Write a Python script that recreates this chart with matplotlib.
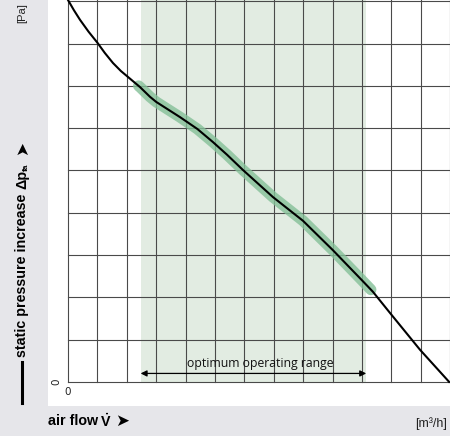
import matplotlib
matplotlib.use("Agg")
import matplotlib.pyplot as plt
from matplotlib.lines import Line2D
import numpy as np

plt.rcParams['mathtext.fontset'] = 'custom'
plt.rcParams['mathtext.rm'] = 'Liberation Sans:bold'
plt.rcParams['mathtext.it'] = 'Liberation Sans:bold'
plt.rcParams['mathtext.bf'] = 'Liberation Sans:bold'

# Data (grid units)
flow = [0.0, 0.2, 0.41, 0.7, 1.0, 1.25, 1.53, 1.8, 2.04, 2.45, 2.79, 3.0, 3.81, 4.4, 4.93,
        5.41, 5.95, 6.97, 7.99, 9.0, 10.0, 10.37, 10.95, 11.97, 12.96]
pressure = [9.03, 8.79, 8.56, 8.28, 8.02, 7.78, 7.54, 7.35, 7.21, 6.97, 6.74, 6.62, 6.26,
            5.98, 5.67, 5.37, 5.01, 4.37, 3.81, 3.12, 2.4, 2.13, 1.63, 0.76, 0.0]
optimum_range = [2.47, 10.14]
highlight_range = [2.4, 10.3]
x_grid = list(range(0, 14))
y_grid = list(range(0, 10))

W, H = 450, 436
fig = plt.figure(figsize=(W / 100, H / 100), dpi=100)
fig.patch.set_facecolor('#e6e6ea')

def fx(px):
    return px / W

def fy(py):
    return 1 - py / H

ax = fig.add_axes([fx(48), fy(406), 1 - fx(48), fy(0) - fy(406)])
ax.set_facecolor('white')
ax.set_xlim(-0.68, 12.99)
ax.set_ylim(-0.57, 9.03)
for s in ax.spines.values():
    s.set_visible(False)
ax.set_xticks([])
ax.set_yticks([])

# optimum band
ax.axvspan(optimum_range[0], optimum_range[1], ymin=(0 + 0.57) / 9.6, ymax=1,
           color='#e2ece2', zorder=0, lw=0)

# grid
gc = '#4a4a4a'
for xv in x_grid:
    ax.plot([xv, xv], [0, 9.2], color=gc, lw=0.8, zorder=1)
for yv in y_grid:
    ax.plot([0, 13.5], [yv, yv], color=gc, lw=0.8, zorder=1)

# highlight stroke (follows the read points within the range)
fl = np.array(flow)
pr = np.array(pressure)
mask = (fl > highlight_range[0]) & (fl < highlight_range[1])
hx = np.concatenate([[highlight_range[0]], fl[mask], [highlight_range[1]]])
hy = np.interp(hx, fl, pr)
ax.plot(hx, hy, color='#84c098', lw=8, solid_capstyle='round',
        solid_joinstyle='round', alpha=0.8, zorder=2)

# curve
ax.plot(flow, pressure, color='black', lw=1.5, zorder=3, solid_joinstyle='round')

# optimum arrow
ax.annotate('', xy=(optimum_range[0], 0.2), xytext=(optimum_range[1], 0.2),
            arrowprops=dict(arrowstyle='<|-|>', color='black', lw=0.9,
                            mutation_scale=9, shrinkA=0, shrinkB=0), zorder=4)
ax.text((optimum_range[0] + optimum_range[1]) / 2 + 0.22, 0.28, 'optimum operating range',
        ha='center', va='bottom', fontsize=8.8, color='#111111', family='Open Sans', zorder=4)

# zero labels
ax.text(0, -0.12, '0', ha='center', va='top', fontsize=7.5, color='#222222')
ax.text(-0.4, 0, '0', ha='center', va='center', fontsize=7.5, rotation=90, color='#222222')

bold = ['Liberation Sans', 'DejaVu Sans']

# y label pieces
fig.add_artist(Line2D([fx(22), fx(22)], [fy(403), fy(362)], color='black', lw=2.2))
fig.text(fx(22), fy(357), 'static pressure increase', rotation=90, ha='center', va='bottom',
         fontsize=10.3, fontweight='bold', family=bold)
fig.text(fx(22), fy(189), 'Δp', rotation=90, ha='center', va='bottom',
         fontsize=10.3, fontweight='bold', family=bold)
fig.text(fx(26), fy(171), 'fa', rotation=90, ha='center', va='bottom',
         fontsize=6, fontweight='bold', family=bold)
fig.text(fx(22), fy(155), '➤', rotation=90, ha='center', va='bottom',
         fontsize=12, family='DejaVu Sans')
fig.text(fx(22), fy(3), '[Pa]', rotation=90, ha='center', va='top',
         fontsize=8, family='Liberation Sans', color='#222222')

# x label
fig.text(fx(48), fy(421), 'air flow', ha='left', va='center',
         fontsize=10.3, fontweight='bold', family=bold)
fig.text(fx(100), fy(421), r'$\dot{V}$', ha='left', va='center', fontsize=10.3)
fig.text(fx(115), fy(421), '➤', ha='left', va='center',
         fontsize=12, family='DejaVu Sans')
fig.text(fx(447), fy(424), '[m³/h]', ha='right', va='center',
         fontsize=9, family='Liberation Sans', color='#222222')

fig.savefig('out.png', dpi=100, facecolor=fig.get_facecolor())
